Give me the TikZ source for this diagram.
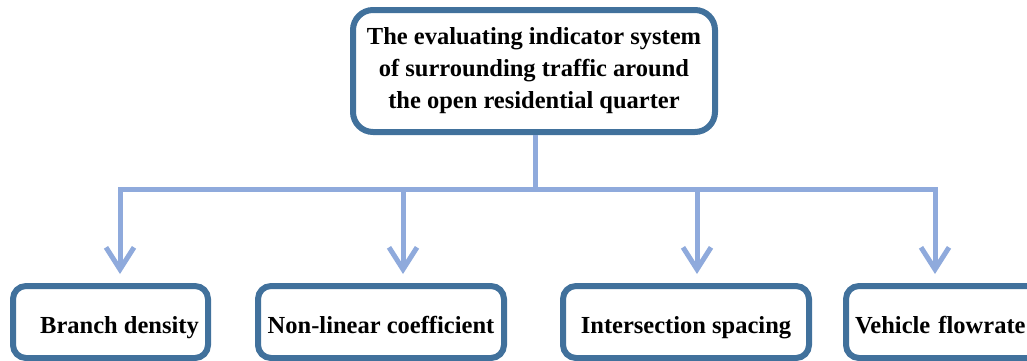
\documentclass[tikz,border=0pt]{standalone}
\usepackage{fontspec}
\setmainfont{Liberation Serif}
\usetikzlibrary{arrows.meta}
\definecolor{boxblue}{HTML}{41719C}
\definecolor{linkblue}{HTML}{8FAADC}
\begin{document}
\begin{tikzpicture}[x=1pt,y=-1pt,
  topbox/.style={draw=boxblue,line width=6pt,rounded corners=20pt,fill=white,align=center,font=\bfseries\fontsize{24.5}{32}\selectfont},
  leafbox/.style={draw=boxblue,line width=6pt,rounded corners=13pt,fill=white,font=\bfseries\fontsize{24.5}{28}\selectfont,text height=24pt,text depth=2pt,minimum height=72pt},
  link/.style={draw=linkblue,line width=5pt},
  arr/.style={link,-{Straight Barb[length=22pt,width=28pt,line width=5pt]}}]
\useasboundingbox (0,0) rectangle (1027,360);
\node[topbox,minimum width=362pt,minimum height=122pt] (top) at (534,71)
  {The evaluating indicator system\\of surrounding traffic around\\the open residential quarter};
\node[leafbox,minimum width=195pt] (b1) at (110.5,322) {\hspace*{18pt}Branch density};
\node[leafbox,minimum width=246pt] (b2) at (381,322) {Non-linear coefficient};
\node[leafbox,minimum width=246pt] (b3) at (686,322) {Intersection spacing};
\node[leafbox,inner xsep=9pt,text width=185pt,align=left,anchor=west] (b4) at (843,322) {Vehicle flowrate};
\coordinate (hub) at (535,189);
\coordinate (l1) at (120,189);
\coordinate (l4) at (935,189);
\draw[link] (top.south -| hub) -- (hub);
\draw[link,line cap=rect] (l1) -- (l4);
\draw[arr] (l1) -- (120,274);
\draw[arr] (403,189) -- (403,274);
\draw[arr] (697,189) -- (697,274);
\draw[arr] (l4) -- (935,274);
\end{tikzpicture}
\end{document}
